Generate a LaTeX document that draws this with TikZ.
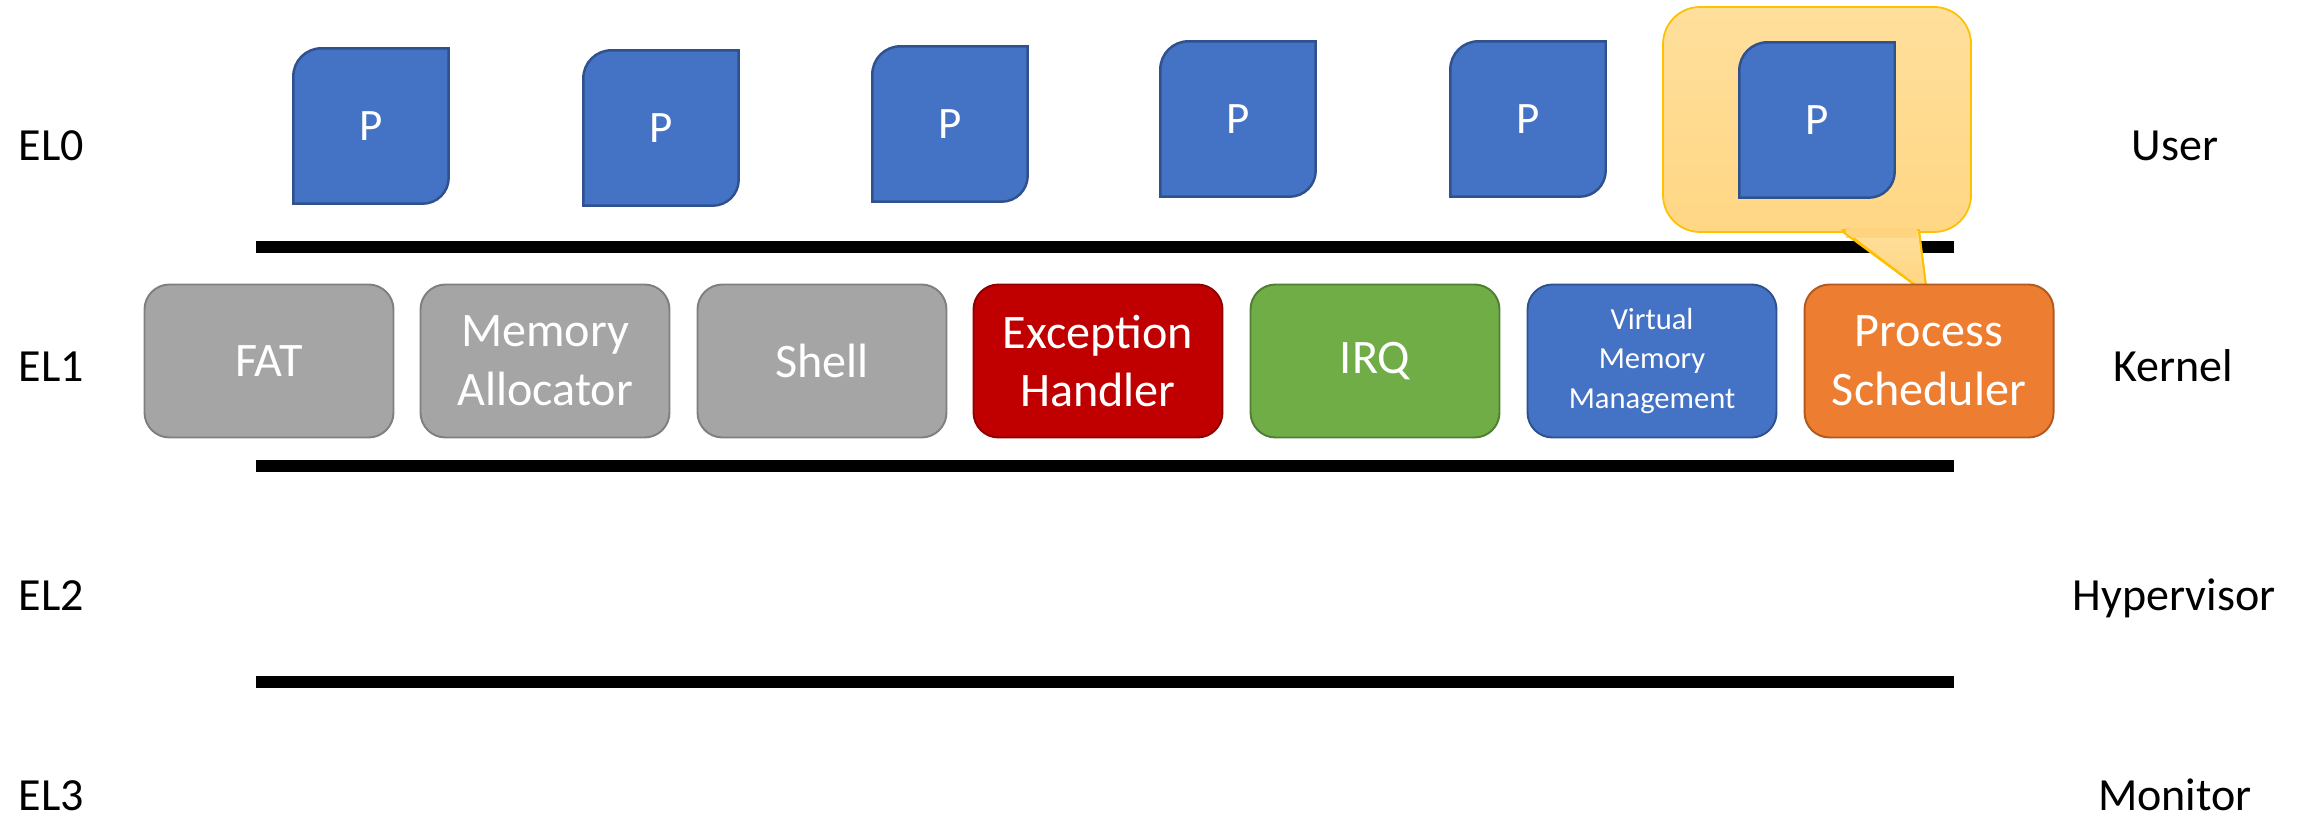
\documentclass[tikz,border=0pt]{standalone}
\usepackage{fontspec}
\setmainfont{Carlito}
\definecolor{gfill}{HTML}{A5A5A5}
\definecolor{gline}{HTML}{7F7F7F}
\definecolor{rfill}{HTML}{C00000}
\definecolor{rline}{HTML}{8F0000}
\definecolor{grfill}{HTML}{70AD47}
\definecolor{grline}{HTML}{507E32}
\definecolor{bfill}{HTML}{4472C4}
\definecolor{bline}{HTML}{2F528F}
\definecolor{ofill}{HTML}{ED7D31}
\definecolor{oline}{HTML}{AE5A21}
\definecolor{ctop}{HTML}{FFDF9C}
\definecolor{cbot}{HTML}{FFD47E}
\definecolor{cline}{HTML}{FFC000}
\begin{document}
\begin{tikzpicture}[x=0.1mm,y=0.1mm,
  lvl/.style={font=\fontsize{13.1}{15}\selectfont, inner sep=0pt},
  kbox/.style={rectangle, rounded corners=2.5mm, minimum width=24.9mm, minimum height=15.3mm,
    line width=0.55pt, text=white, align=center, inner sep=0pt,
    font=\fontsize{13.7}{16.7}\selectfont},
  gbox/.style={kbox, fill=gfill, draw=gline},
  pnode/.style={rectangle, minimum width=15.4mm, minimum height=15.4mm, inner sep=0pt,
    text=white, font=\fontsize{12.8}{14}\selectfont},
  pshape/.style={fill=bfill, draw=bline, line width=0.7pt},
  bar/.style={line width=1.2mm},
]
\useasboundingbox (0,0) rectangle (2311,816);

% speech bubble behind the highlighted process
\shade[top color=ctop, bottom color=cbot, draw=cline, line width=0.5pt]
  (1919,584) -- (1934,584) arc[start angle=270, end angle=360, radius=3.7mm]
  -- (1971,772) arc[start angle=0, end angle=90, radius=3.7mm]
  -- (1700,809) arc[start angle=90, end angle=180, radius=3.7mm]
  -- (1663,621) arc[start angle=180, end angle=270, radius=3.7mm]
  -- (1843,584) -- (1927,522) -- cycle;

% user processes
\newcommand\procshape[1]{%
  \draw[pshape] (#1.south west) -- ([yshift=-2.8mm]#1.north west)
    arc[start angle=180, end angle=90, radius=2.8mm] -- (#1.north east)
    -- ([yshift=2.6mm]#1.south east)
    arc[start angle=0, end angle=-90, radius=2.6mm] -- cycle;}
\foreach \n/\x/\y in {p1/371/690, p2/661/688, p3/950/692, p4/1238/697, p5/1528/697, p6/1817/696}{
  \node[pnode] (\n) at (\x,\y) {};
  \procshape{\n}
  \node[pnode] at (\n) {P};
}

% privilege boundaries
\coordinate (b1l) at (256,569); \coordinate (b1r) at (1954,569);
\coordinate (b2l) at (256,350); \coordinate (b2r) at (1954,350);
\coordinate (b3l) at (256,134); \coordinate (b3r) at (1954,134);
\draw[bar] (b1l) -- (b1r);
\draw[bar] (b2l) -- (b2r);
\draw[bar] (b3l) -- (b3r);

% bubble tail drawn over the boundary line
\shade[top color=ctop, bottom color=cbot, draw=cline, line width=0.5pt]
  (1919,586) -- (1843,586) -- (1927,522) -- cycle;
\fill[cbot] (1846,588) rectangle (1917,578);
\draw[cline, line width=0.5pt] (1843,584) -- (1927,522) -- (1919,584);

% kernel components
\node[gbox] (fat) at (269,455) {FAT};
\node[gbox] (mem) at (545,455) {Memory\\Allocator};
\node[gbox] (shell) at (822,455) {Shell};
\node[kbox, fill=rfill, draw=rline] (exc) at (1098,455) {Exception\\Handler};
\node[kbox, fill=grfill, draw=grline] (irq) at (1375,455) {IRQ};
\node[kbox, fill=bfill, draw=bline, font=\fontsize{8.7}{11.3}\selectfont] (vmm) at (1652,455) {Virtual\\Memory\\Management};
\node[kbox, fill=ofill, draw=oline] (sched) at (1929,455) {Process\\Scheduler};

% exception levels
\node[lvl, anchor=base west] (el0) at (18,655) {EL0};
\node[lvl, anchor=base west] (el1) at (18,434) {EL1};
\node[lvl, anchor=base west] (el2) at (18,206) {EL2};
\node[lvl, anchor=base west] (el3) at (18,6) {EL3};
\node[lvl, anchor=base] (user) at (2175,655) {User};
\node[lvl, anchor=base] (kern) at (2173,434) {Kernel};
\node[lvl, anchor=base] (hyp) at (2174,206) {Hypervisor};
\node[lvl, anchor=base] (mon) at (2175,6) {Monitor};
\end{tikzpicture}
\end{document}
